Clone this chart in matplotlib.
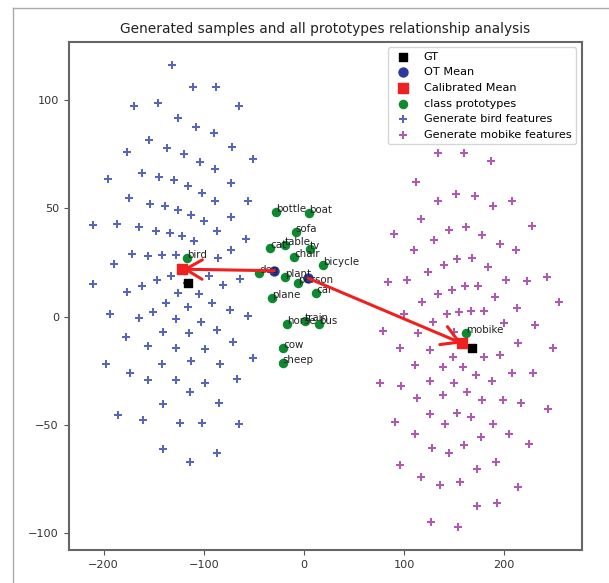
import matplotlib
matplotlib.use("Agg")
import matplotlib.pyplot as plt
from matplotlib.lines import Line2D

# ---- data ----
bird_x = [-131.5, -110.5, -88.2, -169.7, -145.5, -64.9, -126.1, -107.8, -89.9, -154.5,
          -136.5, -71.9, -177.0, -119.5, -103.8, -51.2, -88.9, -161.4, -195.4, -144.8,
          -129.8, -115.8, -72.9, -102.1, -174.4, -88.6, -56.2, -154.1, -138.8, -125.8,
          -112.8, -73.2, -99.8, -210.4, -187.0, -164.7, -147.5, -133.8, -121.5, -86.6,
          -109.8, -58.2, -72.9, -171.4, -156.1, -141.5, -128.1, -85.9, -189.7, -94.8,
          -63.9, -147.1, -133.1, -210.4, -161.4, -80.9, -116.5,
          -177.0, -126.1, -104.8, -137.8, -92.2, -115.5, -150.5, -73.9, -193.7, -164.7,
          -127.5, -103.1, -56.2, -86.6, -140.5, -114.8, -177.7, -71.2, -156.1, -127.5,
          -98.8, -50.6, -198.0, -141.5, -112.8, -83.6, -174.0, -156.1, -128.1, -98.5,
          -66.6, -113.5, -140.5, -84.6, -185.4, -160.4, -123.8, -102.1, -65.2, -140.5,
          -86.6, -113.8]
bird_y = [116.2, 105.9, 105.9, 97.4, 98.5, 97.4, 91.8, 87.4, 84.8, 81.7,
          78.0, 78.5, 76.2, 75.1, 71.5, 72.9, 68.3, 66.3, 63.4, 64.5,
          63.0, 60.5, 61.6, 57.0, 54.9, 53.3, 53.5, 51.9, 51.0, 49.2,
          47.1, 45.9, 44.0, 42.2, 42.6, 41.5, 39.6, 38.5, 37.2, 39.7,
          35.1, 35.7, 30.6, 28.8, 28.0, 28.3, 28.5, 27.0, 24.3, 18.6,
          17.4, 16.9, 18.9, 15.0, 14.3, 14.6, 15.4,
          11.3, 11.1, 10.3, 6.5, 6.2, 4.3, 2.3, 3.0, 1.2, -0.7,
          -1.1, -2.3, 0.3, -6.0, -7.2, -7.7, -9.2, -11.5, -13.4, -14.3,
          -15.0, -18.9, -21.7, -21.8, -20.4, -22.0, -26.1, -29.4, -29.2, -30.5,
          -28.6, -34.8, -40.3, -40.0, -45.5, -47.8, -49.1, -49.2, -49.4, -61.2,
          -63.0, -66.9]

mobike_x = [133.5, 160.0, 186.4, 111.5, 152.1, 171.0, 134.1, 207.4, 189.0, 116.8,
            227.6, 161.7, 145.1, 90.2, 178.0, 129.8, 195.7, 110.1, 211.4, 153.1,
            167.4, 139.8, 184.0, 123.5, 242.3, 102.8, 84.2, 201.4, 222.9, 160.7,
            173.4, 148.1, 133.8, 190.7, 117.5, 254.3, 213.0, 154.8, 166.7, 179.4,
            142.5, 99.8, 128.5, 199.4, 230.6, 79.2, 114.1, 149.8, 95.8, 125.8,
            213.9, 248.3, 167.4,
            149.1, 179.7, 195.7, 110.8, 138.5, 159.0, 171.4, 207.4, 228.3, 75.9,
            96.5, 125.8, 149.8, 187.4, 162.4, 113.1, 138.5, 178.0, 198.4, 216.7,
            243.3, 125.8, 152.5, 166.7, 90.9, 140.8, 188.4, 110.8, 205.0, 176.4,
            128.1, 144.8, 159.7, 224.9, 95.8, 191.7, 172.4, 116.5, 135.8, 155.8,
            213.4, 172.4, 192.4, 126.8, 153.5]
mobike_y = [75.7, 75.7, 71.9, 62.3, 56.8, 55.7, 53.5, 53.5, 51.1, 45.0,
            42.0, 41.4, 40.0, 38.0, 37.7, 35.3, 33.7, 30.6, 30.6, 26.6,
            27.0, 23.9, 22.8, 20.5, 18.3, 16.9, 15.9, 16.8, 16.6, 14.3,
            14.3, 12.5, 10.5, 9.0, 6.9, 6.9, 3.9, 2.0, 2.6, 2.6,
            1.1, 1.4, -2.4, -3.0, -3.7, -6.6, -7.7, -7.2, -14.6, -15.4,
            -12.3, -14.6, -14.6,
            -18.5, -18.7, -17.7, -22.3, -23.1, -23.1, -26.9, -26.1, -25.8, -30.7,
            -31.8, -29.7, -30.7, -29.7, -34.6, -37.7, -36.1, -38.4, -38.4, -39.7,
            -42.7, -45.0, -44.6, -46.2, -48.5, -49.5, -49.5, -54.1, -54.1, -55.7,
            -60.5, -63.0, -59.2, -58.8, -68.4, -67.1, -70.2, -73.8, -77.7, -76.2,
            -78.7, -87.4, -85.8, -94.9, -96.9]

proto_names = ["bird", "bottle", "boat", "sofa", "cat", "table", "tv", "chair", "bicycle",
               "dog", "plant", "person", "car", "plane", "horse", "train", "bus", "cow",
               "sheep", "mobike"]
proto_x = [-117.1, -28.0, 5.3, -8.3, -33.9, -19.0, 6.0, -9.7, 19.3,
           -44.9, -19.0, -6.3, 12.0, -31.6, -16.7, 1.0, 15.3, -20.7,
           -21.3, 161.7]
proto_y = [27.0, 48.5, 47.7, 39.2, 31.6, 33.1, 31.1, 27.7, 23.9,
           20.0, 18.2, 15.7, 11.1, 8.5, -3.4, -2.0, -3.4, -14.3,
           -21.5, -7.4]

gt_x = [-116.3, 167.4]
gt_y = [15.6, -14.6]
ot_x = [-30.0, 4.3]
ot_y = [21.2, 17.7]
cal_x = [-121.3, 157.5]
cal_y = [21.9, -12.3]

# ---- figure ----
W, H = 609, 583
fig = plt.figure(figsize=(W / 100, H / 100), dpi=100)
ax = fig.add_axes([68.6 / W, 1 - 550 / H, (581.5 - 68.6) / W, (550 - 41.7) / H])

# outer frame (left and top edges only visible)
fig.add_artist(Line2D([13 / W, 13 / W], [0, 1 - 8 / H], transform=fig.transFigure,
                      color="#aaaaaa", lw=1.0))
fig.add_artist(Line2D([13 / W, 1], [1 - 8 / H, 1 - 8 / H], transform=fig.transFigure,
                      color="#aaaaaa", lw=1.0))

h_bird = ax.scatter(bird_x, bird_y, marker="P", s=28, color="#3a4bb0", alpha=0.85,
                    linewidths=0, zorder=2, label="Generate bird features")
h_mob = ax.scatter(mobike_x, mobike_y, marker="P", s=28, color="#a23ca2", alpha=0.85,
                   linewidths=0, zorder=2, label="Generate mobike features")
h_proto = ax.scatter(proto_x, proto_y, marker="o", s=34, color="#0d8a30", zorder=3,
                     label="class prototypes")
h_gt = ax.scatter(gt_x, gt_y, marker="s", s=38, color="black", zorder=4, label="GT")
h_ot = ax.scatter(ot_x, ot_y, marker="o", s=42, color="#2b3a9c", zorder=4, label="OT Mean")
h_cal = ax.scatter(cal_x, cal_y, marker="s", s=42, color="#ee2020", zorder=4,
                   label="Calibrated Mean")

for n, x, y in zip(proto_names, proto_x, proto_y):
    ax.text(x, y, n, fontsize=7.4, color="#222222", zorder=5)

for i in range(2):
    ax.annotate("", xy=(cal_x[i], cal_y[i]), xytext=(ot_x[i], ot_y[i]),
                arrowprops=dict(arrowstyle="->,head_length=0.6,head_width=0.35",
                                color="#ee2020", lw=2.2, mutation_scale=20,
                                shrinkA=0, shrinkB=0),
                zorder=6)

ax.set_xlim(-235, 277)
ax.set_ylim(-107.7, 126.9)
ax.set_xticks([-200, -100, 0, 100, 200])
ax.set_yticks([-100, -50, 0, 50, 100])
ax.tick_params(labelsize=8.1, color="#555555", labelcolor="#333333")
for sp in ax.spines.values():
    sp.set_color("#666666")
    sp.set_linewidth(1.5)

ax.set_title("Generated samples and all prototypes relationship analysis",
             fontsize=9.9, color="#222222")

ax.legend(handles=[h_gt, h_ot, h_cal, h_proto, h_bird, h_mob], loc="upper right",
          fontsize=8.1)

fig.savefig("out.png", dpi=100)
